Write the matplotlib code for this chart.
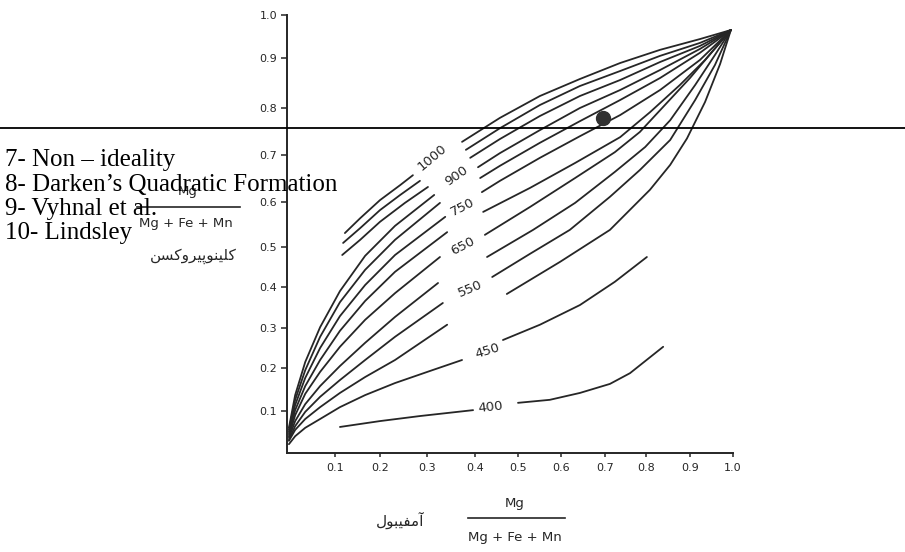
import numpy as np
import matplotlib
matplotlib.use("Agg")
import matplotlib.pyplot as plt
from matplotlib.lines import Line2D

# ---------------- data (axis units) ----------------
tick_values = [0.1, 0.2, 0.3, 0.4, 0.5, 0.6, 0.7, 0.8, 0.9, 1.0]
tick_labels = ["0.1", "0.2", "0.3", "0.4", "0.5", "0.6", "0.7", "0.8", "0.9", "1.0"]

# isotherm 1000
t1000_lx = [0.122, 0.156, 0.200, 0.243, 0.270]
t1000_ly = [0.531, 0.564, 0.604, 0.636, 0.657]
t1000_rx = [0.373, 0.458, 0.551, 0.643, 0.737, 0.832, 0.923, 0.995]
t1000_ry = [0.728, 0.779, 0.824, 0.858, 0.890, 0.919, 0.944, 0.965]
# isotherm 950
t950_lx = [0.118, 0.156, 0.200, 0.243, 0.285]
t950_ly = [0.509, 0.542, 0.582, 0.615, 0.645]
t950_rx = [0.381, 0.458, 0.551, 0.643, 0.737, 0.832, 0.923, 0.995]
t950_ry = [0.711, 0.757, 0.806, 0.844, 0.874, 0.905, 0.935, 0.965]
# isotherm 900
t900_lx = [0.116, 0.156, 0.200, 0.253, 0.302]
t900_ly = [0.480, 0.516, 0.556, 0.598, 0.632]
t900_rx = [0.390, 0.458, 0.551, 0.643, 0.737, 0.832, 0.923, 0.995]
t900_ry = [0.694, 0.734, 0.783, 0.824, 0.856, 0.892, 0.928, 0.965]
# isotherm 850
t850_lx = [0.004, 0.017, 0.038, 0.069, 0.111, 0.167, 0.232, 0.315]
t850_ly = [0.060, 0.137, 0.215, 0.302, 0.390, 0.478, 0.547, 0.615]
t850_rx = [0.407, 0.458, 0.551, 0.643, 0.737, 0.832, 0.923, 0.995]
t850_ry = [0.674, 0.704, 0.753, 0.800, 0.836, 0.876, 0.921, 0.965]
# isotherm 800
t800_lx = [0.004, 0.017, 0.038, 0.069, 0.111, 0.167, 0.232, 0.327]
t800_ly = [0.055, 0.126, 0.195, 0.278, 0.363, 0.443, 0.516, 0.598]
t800_rx = [0.412, 0.458, 0.551, 0.643, 0.737, 0.832, 0.923, 0.995]
t800_ry = [0.651, 0.677, 0.726, 0.772, 0.816, 0.860, 0.912, 0.965]
# isotherm 750
t750_lx = [0.004, 0.017, 0.038, 0.069, 0.111, 0.167, 0.232, 0.338]
t750_ly = [0.050, 0.114, 0.177, 0.250, 0.329, 0.405, 0.480, 0.567]
t750_rx = [0.416, 0.458, 0.551, 0.643, 0.737, 0.832, 0.923, 0.995]
t750_ry = [0.621, 0.645, 0.694, 0.740, 0.785, 0.836, 0.896, 0.965]
# isotherm 700
t700_lx = [0.004, 0.017, 0.038, 0.069, 0.111, 0.167, 0.232, 0.342]
t700_ly = [0.045, 0.102, 0.158, 0.220, 0.293, 0.366, 0.438, 0.533]
t700_rx = [0.419, 0.528, 0.632, 0.737, 0.809, 0.877, 0.935, 0.995]
t700_ry = [0.578, 0.630, 0.683, 0.738, 0.791, 0.846, 0.896, 0.965]
# isotherm 650
t650_lx = [0.004, 0.017, 0.038, 0.069, 0.111, 0.167, 0.232, 0.327]
t650_ly = [0.040, 0.090, 0.140, 0.191, 0.253, 0.320, 0.385, 0.475]
t650_rx = [0.423, 0.528, 0.632, 0.724, 0.785, 0.843, 0.900, 0.951, 0.995]
t650_ry = [0.527, 0.589, 0.651, 0.706, 0.749, 0.806, 0.860, 0.914, 0.965]
# isotherm 600
t600_lx = [0.004, 0.017, 0.038, 0.069, 0.111, 0.167, 0.232, 0.323]
t600_ly = [0.036, 0.076, 0.116, 0.158, 0.205, 0.263, 0.327, 0.410]
t600_rx = [0.428, 0.535, 0.632, 0.724, 0.798, 0.855, 0.912, 0.958, 0.995]
t600_ry = [0.475, 0.538, 0.598, 0.664, 0.717, 0.774, 0.846, 0.907, 0.965]
# isotherm 550
t550_lx = [0.004, 0.017, 0.038, 0.069, 0.111, 0.167, 0.232, 0.333]
t550_ly = [0.031, 0.064, 0.098, 0.133, 0.172, 0.220, 0.278, 0.361]
t550_rx = [0.440, 0.528, 0.620, 0.712, 0.785, 0.855, 0.912, 0.958, 0.995]
t550_ry = [0.425, 0.483, 0.538, 0.611, 0.668, 0.732, 0.816, 0.886, 0.965]
# isotherm 500
t500_lx = [0.004, 0.017, 0.038, 0.069, 0.111, 0.167, 0.232, 0.342]
t500_ly = [0.029, 0.055, 0.081, 0.109, 0.142, 0.179, 0.220, 0.308]
t500_rx = [0.474, 0.598, 0.712, 0.809, 0.855, 0.893, 0.935, 0.970, 0.995]
t500_ry = [0.383, 0.463, 0.538, 0.626, 0.679, 0.735, 0.812, 0.888, 0.965]
# isotherm 450
t450_lx = [0.004, 0.017, 0.038, 0.069, 0.111, 0.167, 0.232, 0.306, 0.373]
t450_ly = [0.021, 0.040, 0.060, 0.081, 0.109, 0.137, 0.165, 0.193, 0.220]
t450_rx = [0.465, 0.551, 0.643, 0.724, 0.802]
t450_ry = [0.270, 0.308, 0.356, 0.413, 0.475]
# isotherm 400
t400_lx = [0.111, 0.200, 0.285, 0.396]
t400_ly = [0.062, 0.076, 0.088, 0.102]
t400_rx = [0.500, 0.574, 0.643, 0.712, 0.761, 0.839]
t400_ry = [0.119, 0.126, 0.142, 0.163, 0.188, 0.253]

# labelled isotherms
label_text = ["1000", "900", "750", "650", "550", "450", "400"]
label_x = [0.310, 0.362, 0.375, 0.375, 0.390, 0.428, 0.437]
label_y = [0.694, 0.655, 0.589, 0.502, 0.395, 0.243, 0.109]

# sample point
dot_x = [0.695]
dot_y = [0.779]

# ---------------- styling / layout ----------------
label_rot = [40, 35, 27, 27, 23, 17, 6]
# axis calibration of the scanned figure (pixel offsets of ticks)
x_cal_pos = [0, 48, 93, 140, 188, 231, 274, 318, 359, 403, 446]
y_cal_pos = [0, 42, 85, 125, 166, 206, 251, 298, 345, 395, 438]
cal_vals = [0.0] + tick_values


def make_funcs(pos):
    v = np.array([-1.0] + cal_vals + [2.0])
    p = np.array([pos[0] - 446.0] + pos + [pos[-1] + 446.0])
    return (lambda a: np.interp(a, v, p)), (lambda a: np.interp(a, p, v))


W, H = 905, 552
fig = plt.figure(figsize=(W / 100, H / 100), dpi=100)
ax = fig.add_axes([287 / W, 99 / H, 446 / W, 438 / H])
ax.set_xscale("function", functions=make_funcs(x_cal_pos))
ax.set_yscale("function", functions=make_funcs(y_cal_pos))
ax.set_xlim(0, 1.0)
ax.set_ylim(0, 1.0)

ink = "#262626"
curves = [
    (t1000_lx, t1000_ly, t1000_rx, t1000_ry),
    (t950_lx, t950_ly, t950_rx, t950_ry),
    (t900_lx, t900_ly, t900_rx, t900_ry),
    (t850_lx, t850_ly, t850_rx, t850_ry),
    (t800_lx, t800_ly, t800_rx, t800_ry),
    (t750_lx, t750_ly, t750_rx, t750_ry),
    (t700_lx, t700_ly, t700_rx, t700_ry),
    (t650_lx, t650_ly, t650_rx, t650_ry),
    (t600_lx, t600_ly, t600_rx, t600_ry),
    (t550_lx, t550_ly, t550_rx, t550_ry),
    (t500_lx, t500_ly, t500_rx, t500_ry),
    (t450_lx, t450_ly, t450_rx, t450_ry),
    (t400_lx, t400_ly, t400_rx, t400_ry),
]
for lx, ly, rx, ry in curves:
    ax.plot(lx, ly, color=ink, lw=1.3, solid_capstyle="round", solid_joinstyle="round")
    ax.plot(rx, ry, color=ink, lw=1.3, solid_capstyle="round", solid_joinstyle="round")

for t, x, y, r in zip(label_text, label_x, label_y, label_rot):
    ax.text(x, y, t, rotation=r, rotation_mode="anchor", ha="center", va="center",
            fontsize=9.5, color=ink, family="DejaVu Sans")

ax.plot(dot_x, dot_y, "o", ms=10, color="#303030", zorder=5)

for s in ["top", "right"]:
    ax.spines[s].set_visible(False)
for s in ["left", "bottom"]:
    ax.spines[s].set_linewidth(1.4)
    ax.spines[s].set_color(ink)
ax.set_xticks(tick_values)
ax.set_xticklabels(tick_labels)
ax.set_yticks(tick_values)
ax.set_yticklabels(tick_labels)
ax.tick_params(axis="x", direction="out", length=3, width=1.1, pad=4, labelsize=8, colors=ink)
ax.tick_params(axis="y", direction="out", length=4, width=1.1, pad=3, labelsize=8, colors=ink)
ax.set_facecolor("none")


def fx(px):
    return px / W


def fy(py):
    return 1 - py / H


# axis titles (fractions + Persian names)
sans = "DejaVu Sans"
fig.text(fx(188), fy(191), "Mg", ha="center", va="center", fontsize=9.5, family=sans, color=ink)
fig.add_artist(Line2D([fx(137), fx(240)], [fy(207), fy(207)], color=ink, lw=1.2))
fig.text(fx(186), fy(223), "Mg + Fe + Mn", ha="center", va="center", fontsize=9.5, family=sans, color=ink)
clino = "\uFEE6\uFEB4\uFB90\uFEED\uFEAE\uFBFF\uFB58\uFEEE\uFEE8\uFBFF\uFEE0\uFB90"
fig.text(fx(193), fy(256), clino, ha="center", va="center", fontsize=11, family=sans, color=ink)

amph = "\uFEDD\uFEEE\uFE92\uFBFF\uFED4\uFEE3\uFE81"
fig.text(fx(400), fy(520), amph, ha="center", va="center", fontsize=11, family=sans, color=ink)
fig.text(fx(515), fy(503), "Mg", ha="center", va="center", fontsize=9.5, family=sans, color=ink)
fig.add_artist(Line2D([fx(468), fx(565)], [fy(518), fy(518)], color=ink, lw=1.2))
fig.text(fx(515), fy(537), "Mg + Fe + Mn", ha="center", va="center", fontsize=9.5, family=sans, color=ink)

# overlaid horizontal rule and caption lines
fig.add_artist(Line2D([0, 1], [fy(128), fy(128)], color="black", lw=1.3))
serif = "Liberation Serif"
captions = ["7- Non \u2013 ideality", "8- Darken\u2019s Quadratic Formation", "9- Vyhnal et al.", "10- Lindsley"]
baselines = [166, 191, 215, 239]
for c, b in zip(captions, baselines):
    fig.text(fx(5), fy(b), c, ha="left", va="baseline", fontsize=18, family=serif, color="black", zorder=10)

fig.savefig("out.png", dpi=100)
